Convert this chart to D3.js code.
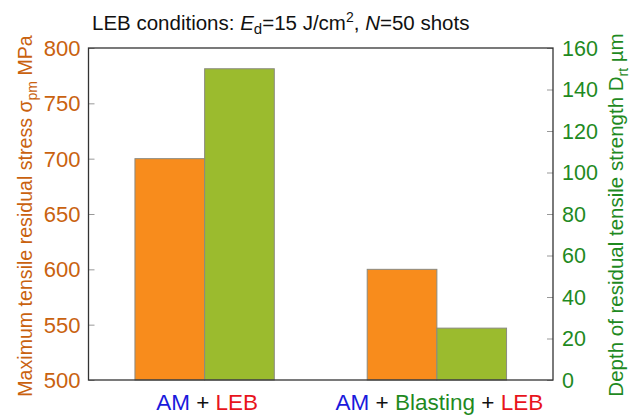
<!DOCTYPE html>
<html>
<head>
<meta charset="utf-8">
<script src="https://cdn.jsdelivr.net/npm/d3@7"></script>
<style>
  html, body { margin: 0; padding: 0; background: #fff; }
  svg { display: block; font-family: "Liberation Sans", Arial, sans-serif; }
</style>
</head>
<body>
<svg id="chart" width="640" height="416"></svg>
<script>
// Process categories and measured values
const categories = ["AM + LEB", "AM + Blasting + LEB"];
const stressValues = [700, 600];   // σpm, MPa (left axis)
const depthValues = [150, 25];     // Drt, µm (right axis)
const leftTicks = [500, 550, 600, 650, 700, 750, 800];
const rightTicks = [0, 20, 40, 60, 80, 100, 120, 140, 160];

// Coloured parts of each category label
const labelParts = [
  [["AM", "#1a1adc"], [" + ", "#111"], ["LEB", "#e8141c"]],
  [["AM", "#1a1adc"], [" + ", "#111"], ["Blasting", "#1f8a1f"], [" + ", "#111"], ["LEB", "#e8141c"]]
];

const leftColor = "#c9620f";
const rightColor = "#1f8a1f";
const orange = "#f88c1c";
const green = "#9bbb2e";

const margin = { left: 88.5, right: 87, top: 48, bottom: 36 };
const W = 640, H = 416;
const x0 = margin.left, x1 = W - margin.right;
const yTop = margin.top, yBot = H - margin.bottom;

const svg = d3.select("#chart");

const xBand = d3.scaleBand().domain(categories).range([x0, x1]).paddingInner(0).paddingOuter(0);
const yLeft = d3.scaleLinear().domain([500, 800]).range([yBot, yTop]);
const yRight = d3.scaleLinear().domain([0, 160]).range([yBot, yTop]);

const barW = xBand.bandwidth() * 0.3;

// Stress bars (left axis)
svg.append("g").selectAll("rect")
  .data(categories)
  .join("rect")
  .attr("x", (d) => xBand(d) + xBand.bandwidth() / 2 - barW)
  .attr("y", (d, i) => yLeft(stressValues[i]))
  .attr("width", barW)
  .attr("height", (d, i) => yBot - yLeft(stressValues[i]))
  .attr("fill", orange)
  .attr("stroke", "#8a8a80")
  .attr("stroke-width", 1);

// Depth bars (right axis)
svg.append("g").selectAll("rect")
  .data(categories)
  .join("rect")
  .attr("x", (d) => xBand(d) + xBand.bandwidth() / 2)
  .attr("y", (d, i) => yRight(depthValues[i]))
  .attr("width", barW)
  .attr("height", (d, i) => yBot - yRight(depthValues[i]))
  .attr("fill", green)
  .attr("stroke", "#8a8a80")
  .attr("stroke-width", 1);

// Left axis: inward ticks, coloured labels
const leftAxis = svg.append("g")
  .attr("transform", `translate(${x0},0)`)
  .call(d3.axisRight(yLeft).tickValues(leftTicks).tickSize(6).tickFormat(""));
leftAxis.select(".domain").remove();
leftAxis.selectAll(".tick line").attr("stroke", "#999");
svg.append("g").selectAll("text")
  .data(leftTicks)
  .join("text")
  .attr("x", x0 - 8)
  .attr("y", (d) => yLeft(d))
  .attr("dy", "0.36em")
  .attr("text-anchor", "end")
  .attr("font-size", 22)
  .attr("fill", leftColor)
  .text((d) => d);

// Right axis: inward ticks, coloured labels
const rightAxis = svg.append("g")
  .attr("transform", `translate(${x1},0)`)
  .call(d3.axisLeft(yRight).tickValues(rightTicks).tickSize(6).tickFormat(""));
rightAxis.select(".domain").remove();
rightAxis.selectAll(".tick line").attr("stroke", "#999");
svg.append("g").selectAll("text")
  .data(rightTicks)
  .join("text")
  .attr("x", x1 + 9)
  .attr("y", (d) => yRight(d))
  .attr("dy", "0.36em")
  .attr("text-anchor", "start")
  .attr("font-size", 21.5)
  .attr("fill", rightColor)
  .text((d) => d);

// Plot frame
svg.append("rect")
  .attr("x", x0).attr("y", yTop)
  .attr("width", x1 - x0).attr("height", yBot - yTop)
  .attr("fill", "none")
  .attr("stroke", "#333")
  .attr("stroke-width", 1.3);

// Category labels with coloured words
labelParts.forEach((parts, i) => {
  const t = svg.append("text")
    .attr("x", xBand(categories[i]) + xBand.bandwidth() / 2 + 2.5)
    .attr("y", 410)
    .attr("text-anchor", "middle")
    .attr("font-size", 22.5)
    .attr("xml:space", "preserve");
  parts.forEach(([s, c]) => t.append("tspan").attr("fill", c).text(s));
});

// Title
const title = svg.append("text")
  .attr("x", 92).attr("y", 30)
  .attr("font-size", 20.5)
  .attr("fill", "#111");
title.append("tspan").text("LEB conditions: ");
title.append("tspan").attr("font-style", "italic").text("E");
title.append("tspan").attr("font-size", 15).attr("dy", 4).text("d");
title.append("tspan").attr("dy", -4).text("=15 J/cm");
title.append("tspan").attr("font-size", 14).attr("dy", -8).text("2");
title.append("tspan").attr("dy", 8).text(", ");
title.append("tspan").attr("font-style", "italic").text("N");
title.append("tspan").text("=50 shots");

// Left axis title
const lt = svg.append("text")
  .attr("transform", `translate(32,216) rotate(-90)`)
  .attr("text-anchor", "middle")
  .attr("font-size", 19.6)
  .attr("fill", leftColor);
lt.append("tspan").text("Maximum tensile residual stress σ");
lt.append("tspan").attr("font-size", 14).attr("dy", 5).text("pm");
lt.append("tspan").attr("dy", -5).text(" MPa");

// Right axis title
const rt = svg.append("text")
  .attr("transform", `translate(623,215) rotate(-90)`)
  .attr("text-anchor", "middle")
  .attr("font-size", 20.5)
  .attr("fill", rightColor);
rt.append("tspan").text("Depth of residual tensile strength D");
rt.append("tspan").attr("font-size", 14).attr("dy", 5).text("rt");
rt.append("tspan").attr("dy", -5).text(" µm");
</script>
</body>
</html>
